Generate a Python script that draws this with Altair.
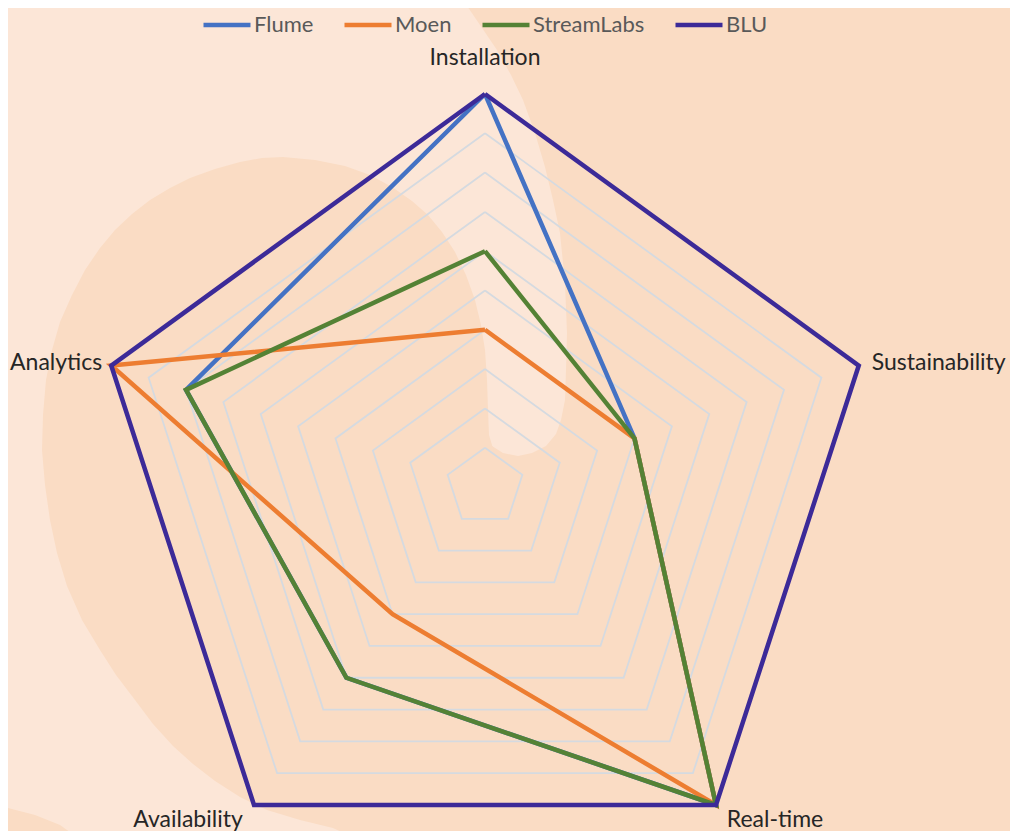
import altair as alt
import numpy as np
import pandas as pd

# ---------------- data ----------------
axes_labels = ["Installation", "Sustainability", "Real-time", "Availability", "Analytics"]
series_names = ["Flume", "Moen", "StreamLabs", "BLU"]
flume = [10, 4, 10, 6, 8]
moen = [4, 4, 10, 4, 10]
streamlabs = [6, 4, 10, 6, 8]
blu = [10, 10, 10, 10, 10]
grid_levels = [1, 2, 3, 4, 5, 6, 7, 8, 9, 10]

# ---------------- styling ----------------
colors = ["#4472C4", "#ED7D31", "#548235", "#3C2A98"]
BG_LIGHT = "#FCE6D7"
BG_DARK = "#FADCC4"
GRID = "#D5DAE0"
FONT = "Lato"

W, H = 1002, 823          # chart size (px)
CX, CY = 477, 479         # radar centre in chart px
K = 39.3                  # px per value unit
OFF = 8                   # page margin

angles = np.deg2rad(np.arange(5) * 72.0)

rows = []
for name, vals in zip(series_names, [flume, moen, streamlabs, blu]):
    for i in range(6):
        j = i % 5
        rows.append({"series": name, "ord": i, "axis": axes_labels[j], "value": vals[j],
                     "x": vals[j] * np.sin(angles[j]), "y": vals[j] * np.cos(angles[j])})
df = pd.DataFrame(rows)

grows = []
for lv in grid_levels:
    for i in range(6):
        j = i % 5
        grows.append({"level": lv, "ord": i, "x": lv * np.sin(angles[j]), "y": lv * np.cos(angles[j])})
gdf = pd.DataFrame(grows)

ldf = pd.DataFrame({"axis": axes_labels,
                    "x": [10 * np.sin(a) for a in angles],
                    "y": [10 * np.cos(a) for a in angles]})

# ---------------- decorative background shapes (page px outlines) ----------------
right_outline = [(457, -10), (463, 0), (480, 25), (497, 50), (511, 75), (523, 100), (535, 133), (545, 167),
                 (553, 200), (560, 233), (565, 283), (567, 333), (566, 370), (565, 400), (561, 420),
                 (556, 434), (546, 446), (532, 453), (518, 456), (503, 453), (492, 446), (487, 440),
                 (475, 500), (480, 850), (1030, 850), (1030, -10)]
blob_outline = [(283, 157), (315, 160), (345, 166), (370, 175), (392, 187), (412, 201), (428, 215), (442, 232),
                (455, 252), (466, 275), (475, 300), (481, 325), (485, 350), (487, 380), (488, 410), (489, 435),
                (495, 455), (520, 480), (600, 500), (600, 850), (380, 850), (333, 828), (300, 820), (267, 810),
                (240, 797), (215, 781), (193, 764), (173, 746), (153, 724), (135, 700), (116, 675), (100, 650),
                (82, 620), (67, 586), (57, 553), (50, 520), (45, 485), (42, 450), (43, 415), (46, 380), (52, 350),
                (60, 322), (72, 295), (85, 270), (100, 248), (115, 230), (132, 214), (150, 200), (170, 188),
                (190, 178), (215, 169), (240, 162), (262, 158)]
corner_y = [806, 815, 825, 850]
corner_xr = [0, 35, 60, 95]


def feature(outline):
    pts = [[float(px - OFF), float(py - OFF)] for px, py in outline]
    pts.append(pts[0])
    return {"type": "Feature", "properties": {}, "geometry": {"type": "Polygon", "coordinates": [pts]}}


def ux(px):
    return (np.asarray(px, dtype=float) - OFF - CX) / K


def uy(py):
    return (CY - (np.asarray(py, dtype=float) - OFF)) / K


xscale = alt.Scale(domain=[-CX / K, (W - CX) / K], nice=False, zero=False)
yscale = alt.Scale(domain=[-(H - CY) / K, CY / K], nice=False, zero=False)

layers = []
layers.append(
    alt.Chart(alt.Data(values=[feature(right_outline), feature(blob_outline)])).mark_geoshape(
        fill=BG_DARK, stroke=None, strokeWidth=0
    ).project(type="identity", scale=1, translate=[0, 0])
)

corner_df = pd.DataFrame({"y": uy(corner_y), "x1": ux([-10] * len(corner_y)), "x2": ux(corner_xr)})
layers.append(
    alt.Chart(corner_df).mark_area(orient="horizontal", color=BG_DARK).encode(
        y=alt.Y("y:Q", scale=yscale, axis=None),
        x=alt.X("x1:Q", scale=xscale, axis=None),
        x2="x2:Q",
    )
)

layers.append(
    alt.Chart(gdf).mark_line(color=GRID, strokeWidth=1.8).encode(
        x=alt.X("x:Q", scale=xscale, axis=None),
        y=alt.Y("y:Q", scale=yscale, axis=None),
        detail="level:N",
        order="ord:Q",
    )
)

legend = alt.Legend(orient="none", legendX=193, legendY=-9, direction="horizontal", title=None,
                    symbolType="stroke", symbolSize=2209, symbolStrokeWidth=4.5,
                    labelFontSize=22, labelFont=FONT, labelColor="#595959",
                    columnPadding=21, labelOffset=1)

for name in series_names:
    layers.append(
        alt.Chart(df).transform_filter(alt.datum.series == name).mark_line(strokeWidth=4.5).encode(
            x=alt.X("x:Q", scale=xscale, axis=None),
            y=alt.Y("y:Q", scale=yscale, axis=None),
            color=alt.Color("series:N", scale=alt.Scale(domain=series_names, range=colors), legend=legend),
            order="ord:Q",
        )
    )

label_style = {
    "Installation": dict(align="center", dx=0, dy=-36),
    "Sustainability": dict(align="left", dx=13, dy=-3),
    "Real-time": dict(align="center", dx=59, dy=15),
    "Availability": dict(align="center", dx=-66, dy=15),
    "Analytics": dict(align="right", dx=-9, dy=-3),
}
for lab in axes_labels:
    st = label_style[lab]
    layers.append(
        alt.Chart(ldf).transform_filter(alt.datum.axis == lab).mark_text(
            font=FONT, fontSize=23, color="#262626", baseline="middle", **st
        ).encode(
            x=alt.X("x:Q", scale=xscale, axis=None),
            y=alt.Y("y:Q", scale=yscale, axis=None),
            text="axis:N",
        )
    )

chart = alt.layer(*layers).properties(
    width=W, height=H, background=BG_LIGHT, padding=0,
    autosize=alt.AutoSizeParams(type="none"),
).configure_view(stroke=None)

chart.save("out.html", embed_options={"renderer": "svg", "actions": False})
